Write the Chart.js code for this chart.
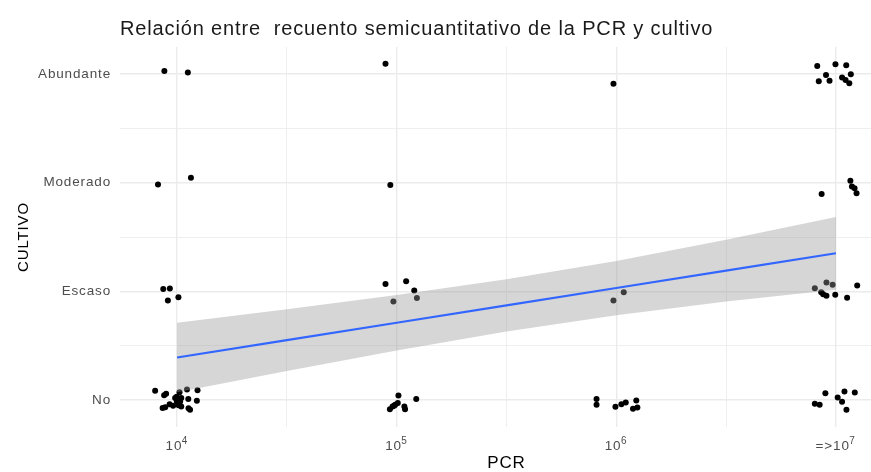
<!DOCTYPE html>
<html>
<head>
<meta charset="utf-8">
<script src="https://cdn.jsdelivr.net/npm/chart.js@4"></script>
<style>
  html, body { margin: 0; padding: 0; background: #fff; overflow: hidden; }
  #wrap { width: 897px; height: 482px; }
</style>
</head>
<body>
<div id="wrap"><canvas id="chart" width="897" height="482"></canvas></div>
<script>
// categories (PCR tick label = base + superscript exponent)
const pcrBase = ['10', '10', '10', '=>10'];
const pcrExp = ['4', '5', '6', '7'];
const cultivoLabels = ['No', 'Escaso', 'Moderado', 'Abundante'];

// jittered observations (category index 1..4 plus jitter)
const pcrJitter = [
    0.942, 1.049, 0.913, 1.063, 0.937, 0.967, 0.958, 1.006,
    0.900, 0.941, 0.950, 1.011, 1.045, 1.093, 0.998, 0.991, 1.019, 1.051, 1.090,
    0.966, 0.946, 0.982, 1.007, 1.019, 1.052, 1.059, 0.999, 1.014, 0.934,
    1.949, 1.971, 1.949, 2.043, 2.080, 1.985, 2.092,
    2.008, 2.089, 1.969, 1.981, 1.993, 2.005, 2.035, 2.038, 1.988,
    2.987, 2.987, 3.034, 2.910, 2.910, 2.996, 3.023, 3.043, 3.091, 3.076, 3.096,
    3.915, 3.998, 4.047, 3.955, 4.068, 3.922, 3.971, 4.028, 4.044, 4.061,
    4.066, 4.073, 4.085, 4.094, 3.935,
    3.904, 3.957, 3.985, 3.933, 3.942, 3.957, 3.997, 4.051, 4.097,
    3.952, 4.039, 4.086, 4.008, 4.028, 3.904, 3.926, 4.048
];
const cultivoJitter = [
    4.028, 4.015, 2.983, 3.045, 2.020, 2.025, 1.915, 1.946,
    1.083, 1.043, 1.057, 1.069, 1.095, 1.089, 1.028, 1.016, 1.018, 1.009, 0.991,
    0.959, 0.931, 0.945, 0.951, 0.938, 0.922, 0.908, 0.984, 0.984, 0.926,
    4.095, 2.978, 2.068, 2.093, 2.007, 1.905, 1.939,
    1.040, 1.009, 0.914, 0.938, 0.954, 0.970, 0.938, 0.914, 0.945,
    3.911, 1.915, 1.992, 1.009, 0.954, 0.936, 0.960, 0.975, 0.994, 0.917, 0.929,
    4.076, 4.090, 4.083, 3.992, 3.998, 3.934, 3.938, 3.969, 3.945, 3.917,
    3.019, 2.965, 2.948, 2.904, 2.897,
    2.027, 2.080, 2.061, 1.992, 1.972, 1.960, 1.967, 1.941, 2.053,
    1.062, 1.076, 1.067, 1.021, 0.983, 0.963, 0.954, 0.908
];

// linear fit with confidence band
const smoothX = [1, 1.5, 2, 2.5, 3, 3.5, 4];
const fitY = [1.39, 1.55, 1.71, 1.87, 2.03, 2.19, 2.35];
const upperY = [1.71, 1.835, 1.965, 2.11, 2.28, 2.475, 2.685];
const lowerY = [1.07, 1.265, 1.455, 1.63, 1.78, 1.905, 2.015];

const gridTicks = [1, 1.5, 2, 2.5, 3, 3.5, 4];

const toXY = (xs, ys) => xs.map((x, i) => ({ x: x, y: ys[i] }));

const fontFamily = "'Liberation Sans', Arial, sans-serif";
const gridWidth = (ctx) => Number.isInteger(ctx.tick && ctx.tick.value) ? 1.4 : 0.8;

// Arial-like text on the reference is rendered with loose spacing
const spacingPlugin = {
    id: 'spacing',
    beforeUpdate(chart) { chart.ctx.letterSpacing = '0.85px'; },
    beforeDraw(chart) { chart.ctx.letterSpacing = '0.85px'; }
};

// x tick labels with a real superscript exponent
const pcrLabelPlugin = {
    id: 'pcrLabels',
    afterDraw(chart) {
        const c = chart.ctx;
        const xScale = chart.scales.x;
        c.save();
        c.fillStyle = '#4d4d4d';
        c.textAlign = 'left';
        c.textBaseline = 'alphabetic';
        pcrBase.forEach((base, i) => {
            c.font = '13.5px ' + fontFamily;
            const wBase = c.measureText(base).width;
            c.font = '10px ' + fontFamily;
            const wExp = c.measureText(pcrExp[i]).width;
            const left = xScale.getPixelForValue(i + 1) - (wBase + wExp) / 2;
            c.font = '13.5px ' + fontFamily;
            c.fillText(base, left, 450);
            c.font = '10px ' + fontFamily;
            c.fillText(pcrExp[i], left + wBase - 0.5, 443.5);
        });
        c.restore();
    }
};

const ctx = document.getElementById('chart').getContext('2d');
const chart = new Chart(ctx, {
    type: 'scatter',
    data: {
        datasets: [{
            label: 'obs',
            data: toXY(pcrJitter, cultivoJitter),
            backgroundColor: '#000000',
            borderWidth: 0,
            pointRadius: 3,
            order: 3
        }, {
            label: 'upper',
            type: 'line',
            data: toXY(smoothX, upperY),
            borderWidth: 0,
            pointRadius: 0,
            fill: '+1',
            backgroundColor: 'rgba(153, 153, 153, 0.4)',
            order: 2
        }, {
            label: 'lower',
            type: 'line',
            data: toXY(smoothX, lowerY),
            borderWidth: 0,
            pointRadius: 0,
            fill: false,
            order: 2
        }, {
            label: 'fit',
            type: 'line',
            data: toXY(smoothX, fitY),
            borderColor: '#3366FF',
            borderWidth: 2.2,
            pointRadius: 0,
            fill: false,
            order: 1
        }]
    },
    options: {
        responsive: false,
        animation: false,
        layout: { padding: 0 },
        plugins: {
            legend: { display: false },
            tooltip: { enabled: false },
            title: {
                display: true,
                fullSize: false,
                align: 'start',
                text: 'Relación entre  recuento semicuantitativo de la PCR y cultivo',
                color: '#1a1a1a',
                font: { family: fontFamily, size: 20, weight: 'normal', lineHeight: 1.2 },
                padding: { top: 17, bottom: 6 }
            }
        },
        scales: {
            x: {
                type: 'linear',
                min: 0.74,
                max: 4.26,
                afterBuildTicks: (scale) => { scale.ticks = gridTicks.map(v => ({ value: v })); },
                afterFit: (scale) => { scale.height = 55; },
                border: { display: false },
                grid: { color: '#ebebeb', lineWidth: gridWidth, drawTicks: false },
                ticks: { display: false },
                title: {
                    display: true,
                    text: 'PCR',
                    color: '#000000',
                    font: { family: fontFamily, size: 17 },
                    padding: { top: 0, bottom: 8.3 }
                }
            },
            y: {
                type: 'linear',
                min: 0.75,
                max: 4.25,
                afterBuildTicks: (scale) => { scale.ticks = gridTicks.map(v => ({ value: v })); },
                afterFit: (scale) => { scale.width = 120; },
                border: { display: false },
                grid: { color: '#ebebeb', lineWidth: gridWidth, drawTicks: false },
                ticks: {
                    autoSkip: false,
                    padding: 9,
                    color: '#4d4d4d',
                    font: { family: fontFamily, size: 13.5 },
                    callback: (v) => Number.isInteger(v) ? cultivoLabels[v - 1] : ''
                },
                title: {
                    display: true,
                    text: 'CULTIVO',
                    color: '#000000',
                    font: { family: fontFamily, size: 15 },
                    padding: { top: 14.5, bottom: 0 }
                }
            }
        }
    },
    plugins: [spacingPlugin, pcrLabelPlugin]
});
</script>
</body>
</html>
